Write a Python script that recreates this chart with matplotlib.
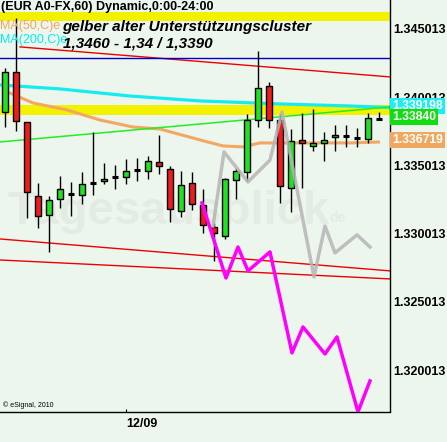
import matplotlib
matplotlib.use("Agg")
import matplotlib.pyplot as plt
import numpy as np

plt.rcParams['font.family'] = ['Liberation Sans', 'DejaVu Sans']

# ---------------- data ----------------
bar_index = list(range(35))
opens = [1.33893, 1.34186, 1.33820, 1.33277, 1.33138, 1.33255, 1.33292, 1.33285, 1.33373, 1.33387,
         1.33417, 1.33417, 1.33468, 1.33461, 1.33527, 1.33475, 1.33167, 1.33373, 1.33211, 1.33050,
         1.32984, 1.33395, 1.33453, 1.33834, 1.34084, 1.33834, 1.33336, 1.33688, 1.33644, 1.33666,
         1.33710, 1.33717, 1.33703, 1.33695, 1.33840]
highs = [1.34216, 1.34582, 1.33820, 1.33373, 1.33277, 1.33424, 1.33380, 1.33453, 1.33746, 1.33519,
         1.33505, 1.33549, 1.33556, 1.33571, 1.33724, 1.33497, 1.33461, 1.33453, 1.33329, 1.33079,
         1.33409, 1.33483, 1.33878, 1.34340, 1.34113, 1.33878, 1.33768, 1.33886, 1.33915, 1.33746,
         1.33798, 1.33798, 1.33776, 1.33886, 1.33893]
lows = [1.33783, 1.33754, 1.33116, 1.33043, 1.32867, 1.33189, 1.33131, 1.33219, 1.33285, 1.33365,
        1.33329, 1.33365, 1.33387, 1.33402, 1.33439, 1.33087, 1.33123, 1.33175, 1.33006, 1.32801,
        1.32962, 1.33255, 1.33387, 1.33783, 1.33776, 1.33226, 1.33160, 1.33336, 1.33607, 1.33534,
        1.33607, 1.33637, 1.33637, 1.33666, 1.33834]
closes = [1.34186, 1.33827, 1.33307, 1.33131, 1.33248, 1.33329, 1.33292, 1.33365, 1.33373, 1.33402,
          1.33417, 1.33461, 1.33468, 1.33534, 1.33497, 1.33182, 1.33358, 1.33219, 1.33065, 1.33006,
          1.33402, 1.33461, 1.33834, 1.34069, 1.33834, 1.33351, 1.33680, 1.33666, 1.33666, 1.33688,
          1.33724, 1.33717, 1.33703, 1.33849, 1.33840]

ma200_x = [-0.4545, 5, 11.36, 17.73, 25, 31.36, 35]
ma200_y = [1.34091, 1.34062, 1.34010, 1.33974, 1.33952, 1.33937, 1.33925]
ma50_x = [0, 0.4545, 2.545, 5.636, 8.636, 11.636, 14.09, 17.73, 19.82, 21.64, 23.18, 31.36, 34.09]
ma50_y = [1.34040, 1.34032, 1.33959, 1.33908, 1.33834, 1.33783, 1.33768, 1.33688, 1.33644,
          1.33637, 1.33666, 1.33666, 1.33673]
green_line_x = [-0.4545, 35.0]
green_line_y = [1.33673, 1.33930]
red_upper_x = [1.364, 35.0]
red_upper_y = [1.3437, 1.3415]
red_lower_a_x = [-0.4545, 35.0]
red_lower_a_y = [1.32962, 1.32728]
red_lower_b_x = [-0.4545, 35.0]
red_lower_b_y = [1.32808, 1.32669]
blue_level = 1.3429
yellow_bands = [(1.34560, 1.34626), (1.33871, 1.33944)]

magenta_x = [17.91, 20.09, 21.18, 22.09, 24.09, 26.09, 27.09, 29.09, 30.18, 32.09, 33.18]
magenta_y = [1.33226, 1.32676, 1.32903, 1.32728, 1.32867, 1.32127, 1.32317, 1.32119, 1.32244,
             1.31694, 1.31921]
gray_x = [18.91, 19.91, 22.09, 24.09, 25.18, 28.09, 29.09, 30.0, 32.0, 33.18]
gray_y = [1.33057, 1.33600, 1.33380, 1.33541, 1.33893, 1.32684, 1.33057, 1.32860, 1.32992, 1.32903]

ytick_values = [1.320013, 1.325013, 1.330013, 1.335013, 1.340013, 1.345013]
ytick_labels = ['1.320013', '1.325013', '1.330013', '1.335013', '1.340013', '1.345013']
xtick_pos = [11]
xtick_labels = ['12/09']

ma200_last = 1.339198
last_price = 1.33840
ma50_last = 1.336719

# ---------------- figure ----------------
W, H = 447, 442
bg = '#edf6ed'
fig = plt.figure(figsize=(W / 100, H / 100), dpi=100, facecolor=bg)
ax = fig.add_axes([0, 30.5 / H, 390 / W, 411.5 / H], facecolor=bg)
ax.set_xlim(-0.4545, 35.0)
ax.set_ylim(1.316971, 1.347139)

# yellow bands
for lo, hi in yellow_bands:
    ax.axhspan(lo, hi, color='#f2f200', lw=0, zorder=1)

# watermark (very faint)
ax.text(0.02, 0.455, 'Tagesausblick', transform=ax.transAxes, fontsize=34, fontweight='bold',
        color='#e3ebe3', ha='left', va='baseline', zorder=1.5)
ax.text(0.845, 0.46, 'de', transform=ax.transAxes, fontsize=10, fontweight='bold',
        color='#e3ebe3', ha='left', va='baseline', zorder=1.5)

# lines
ax.plot(ma200_x, ma200_y, color='#16ecf0', lw=2.3, zorder=2, solid_capstyle='butt')
ax.plot(ma50_x, ma50_y, color='#f2a862', lw=2.2, zorder=2, solid_capstyle='butt')
ax.plot(green_line_x, green_line_y, color='#22ee22', lw=1.1, zorder=2)
ax.plot(red_upper_x, red_upper_y, color='#ee0000', lw=1.0, zorder=2)
ax.plot(red_lower_a_x, red_lower_a_y, color='#ee0000', lw=1.0, zorder=2)
ax.plot(red_lower_b_x, red_lower_b_y, color='#ee0000', lw=1.0, zorder=2)
ax.axhline(blue_level, color='#0000cc', lw=1.0, zorder=2)

# candles
body_w = 0.62
for i, o, h, l, c in zip(bar_index, opens, highs, lows, closes):
    ax.vlines(i, l, h, color='black', lw=1.0, zorder=3)
    if abs(c - o) < 1e-9:
        ax.hlines(o, i - body_w / 2, i + body_w / 2, color='black', lw=2.2, zorder=4)
    else:
        col = '#22e022' if c > o else '#ee1c1c'
        ax.bar(i, abs(c - o), bottom=min(o, c), width=body_w, color=col,
               edgecolor='black', linewidth=1.0, zorder=4)

# projections
ax.plot(magenta_x, magenta_y, color='#ff00ff', lw=2.5, zorder=5)
ax.plot(gray_x, gray_y, color='#b5b5b5', lw=2.5, alpha=0.85, zorder=5)

# axes styling
for s in ['left', 'top']:
    ax.spines[s].set_visible(False)
ax.spines['right'].set_color('black')
ax.spines['bottom'].set_color('black')
ax.spines['right'].set_linewidth(1.0)
ax.spines['bottom'].set_linewidth(1.0)
ax.yaxis.tick_right()
ax.set_yticks(ytick_values)
ax.set_yticklabels(ytick_labels, fontsize=9, fontweight='bold')
ax.tick_params(axis='y', length=0, pad=2)
ax.set_xticks(xtick_pos)
ax.set_xticklabels(xtick_labels, fontsize=9, fontweight='bold', ha='left')
ax.tick_params(axis='x', length=2, direction='in', pad=5)

# right side value boxes
for val, fc, txt, z in [(ma200_last, '#1eeef2', '1.339198', 10),
                        (last_price, '#11dd11', '1.33840', 12),
                        (ma50_last, '#f0a860', '1.336719', 11)]:
    ax.annotate(txt, xy=(1, val), xycoords=('axes fraction', 'data'), xytext=(1.5, 1.6),
                textcoords='offset points', ha='left', va='center', fontsize=8.7,
                fontweight='bold', color='white', zorder=z, annotation_clip=False,
                bbox=dict(boxstyle='square,pad=0.18', fc=fc, ec='none'))

# texts
def fx(x):
    return x / W

def fy(y):
    return 1 - y / H

fig.text(fx(1), fy(1), '(EUR A0-FX,60) Dynamic,0:00-24:00', fontsize=9, fontweight='bold',
         ha='left', va='top', color='black')
fig.text(fx(0), fy(25.5), 'MA(50,C)e', fontsize=9, color='#f4a460', ha='left', va='center')
fig.text(fx(0), fy(39.5), 'MA(200,C)e', fontsize=9, color='#00eeee', ha='left', va='center')
fig.text(fx(62), fy(31), 'gelber alter Unterstützungscluster', fontsize=11, fontweight='bold',
         style='italic', ha='left', va='baseline', color='black')
fig.text(fx(63), fy(47), '1,3460 - 1,34 / 1,3390', fontsize=11, fontweight='bold',
         style='italic', ha='left', va='baseline', color='black')
fig.text(fx(3), fy(405), '© eSignal, 2010', fontsize=5, ha='left', va='center', color='black')

fig.savefig('out.png', dpi=100, facecolor=bg)
